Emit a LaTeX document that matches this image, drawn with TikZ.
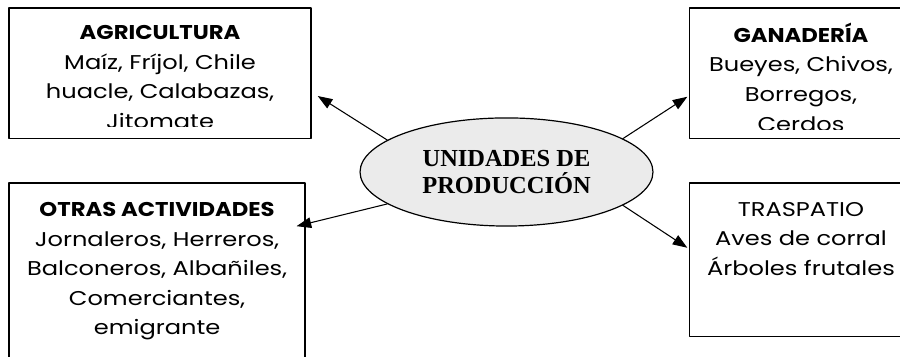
\documentclass[tikz,border=0pt]{standalone}
\usepackage{fontspec}
\setmainfont{Liberation Serif}
\newfontfamily\gothic[FakeStretch=1.21,BoldFeatures={FakeStretch=1.14}]{Poppins}
\usetikzlibrary{arrows.meta,shapes.geometric}

\tikzset{
  caja/.style={draw,line width=0.9pt,inner sep=0pt},
  texto/.style={anchor=north,align=center,inner sep=0pt,font=\gothic\fontsize{15}{22.3}\selectfont},
  flecha/.style={->,line width=0.8pt}
}

\begin{document}
\begin{tikzpicture}[line cap=round,line join=round,>={Triangle[length=11pt,width=8pt]},x=1.0cm,y=1.0cm]
\clip (0.,0.) rectangle (23.81,9.44);
\node[ellipse,draw,line width=0.9pt,fill=black!8,minimum width=7.75cm,minimum height=2.86cm,align=center,
  font=\bfseries\fontsize{18.4}{20.5}\selectfont] (unidades) at (13.40,4.89) {UNIDADES DE\\PRODUCCIÓN};
% cajas
\node[caja,minimum width=7.99cm,minimum height=3.46cm] (agri) at (4.235,7.50) {};
\node[caja,minimum width=5.88cm,minimum height=3.46cm] (gana) at (21.19,7.50) {};
\node[caja,minimum width=7.83cm,minimum height=5.10cm] (otras) at (4.155,2.05) {};
\node[caja,minimum width=5.88cm,minimum height=4.07cm] (tras) at (21.19,2.565) {};
% textos
\begin{scope}
\clip ([yshift=0.33cm]agri.south west) rectangle (agri.north east);
\node[texto] (agritxt) at ([yshift=-0.47cm]agri.north) {\textbf{AGRICULTURA}\\Maíz, Fríjol, Chile\\huacle, Calabazas,\\Jitomate};
\end{scope}
\begin{scope}
\clip ([yshift=0.25cm]gana.south west) rectangle (gana.north east);
\node[texto] (ganatxt) at ([yshift=-0.40cm]gana.north) {\textbf{GANADERÍA}\\Bueyes, Chivos,\\Borregos,\\Cerdos};
\end{scope}
\node[texto] (otrastxt) at ([yshift=-0.52cm]otras.north) {\textbf{OTRAS ACTIVIDADES}\\Jornaleros, Herreros,\\Balconeros, Albañiles,\\Comerciantes,\\emigrante};
\node[texto] (trastxt) at ([yshift=-0.52cm]tras.north) {TRASPATIO\\Aves de corral\\Árboles frutales};
% flechas
\draw[flecha] (unidades.165.5) -- ([xshift=0.16cm,yshift=-0.6cm]agri.east);
\draw[flecha] (unidades.16.5) -- ([xshift=-0.05cm,yshift=-0.62cm]gana.west);
\draw[flecha] (unidades.195.4) -- ([xshift=-0.24cm,yshift=-1.16cm]otras.north east);
\draw[flecha] (unidades.344.4) -- ([xshift=-0.05cm,yshift=0.32cm]tras.west);
\end{tikzpicture}
\end{document}
